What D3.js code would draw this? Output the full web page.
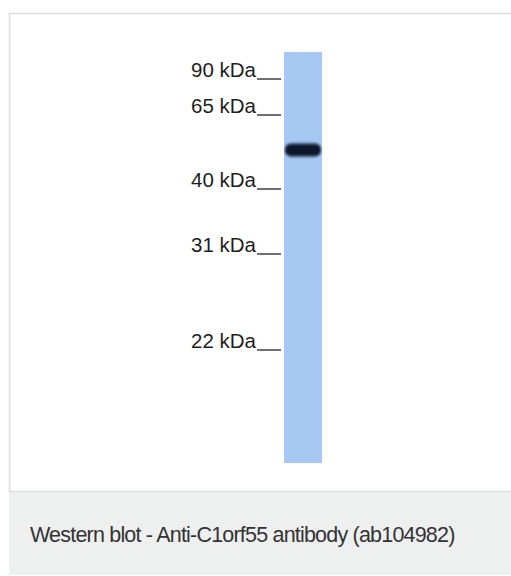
<!DOCTYPE html>
<head>
	<meta charset="utf-8">
	<script type="text/javascript" src="https://cdn.jsdelivr.net/npm/d3@7"></script>
	<style>
		body { margin: 0; background: #fff; }
	</style>
</head>
<body>
	<script type="text/javascript">

	// marker ladder (kDa) and the one band seen in the lane
	var markers = [90, 65, 40, 31, 22];
	var markerLabels = ["90 kDa", "65 kDa", "40 kDa", "31 kDa", "22 kDa"];
	var bands = [51];
	var caption = "Western blot - Anti-C1orf55 antibody (ab104982)";

	var w = 511;
	var h = 576;

	var svg = d3.select("body")
	.append("svg")
	.attr("width", w)
	.attr("height", h);

	// gel runs are not quite log-linear, so calibrate piecewise on the ladder
	var yscale = d3.scaleLog()
	.domain(markers)
	.range([77, 113, 187, 252, 348]);

	var laneX = 284, laneW = 38;

	// frame + caption strip
	svg.append("rect")
	.attr("x", 9.5).attr("y", 13.5)
	.attr("width", w).attr("height", 478)
	.attr("fill", "#fff")
	.attr("stroke", "#dcdcdc")
	.attr("stroke-width", 1.5);

	svg.append("rect")
	.attr("x", 9).attr("y", 492)
	.attr("width", w).attr("height", 83)
	.attr("fill", "#eeefef");

	svg.append("text")
	.text(caption)
	.attr("x", 30)
	.attr("y", 542)
	.attr("font-family", "Liberation Sans, Arial, sans-serif")
	.attr("font-size", "21.5px")
	.attr("letter-spacing", "-0.8px")
	.attr("fill", "#333");

	var defs = svg.append("defs");
	defs.append("filter").attr("id", "blur")
	.attr("x", "-20%").attr("y", "-100%").attr("width", "140%").attr("height", "300%")
	.append("feGaussianBlur").attr("stdDeviation", "1.3 1.8");

	// lane
	svg.append("rect")
	.attr("x", laneX).attr("y", 52)
	.attr("width", laneW).attr("height", 411)
	.attr("fill", "#a8c8f4");

	svg.selectAll("rect.band")
	.data(bands)
	.enter()
	.append("rect")
	.attr("class", "band")
	.attr("x", laneX + 1)
	.attr("y", function(d){ return yscale(d) - 6.5; })
	.attr("width", laneW - 2)
	.attr("height", 13)
	.attr("rx", 6)
	.attr("fill", "#0b1829")
	.attr("filter", "url(#blur)");

	// ladder labels with their underscore ticks
	var g = svg.selectAll("g.marker")
	.data(markers)
	.enter()
	.append("g")
	.attr("class", "marker");

	g.append("text")
	.text(function(d, i){ return markerLabels[i]; })
	.attr("x", 256)
	.attr("y", function(d){ return yscale(d); })
	.attr("text-anchor", "end")
	.attr("font-family", "Liberation Sans, Arial, sans-serif")
	.attr("font-size", "20.5px")
	.attr("fill", "#1e1e1e");

	g.append("line")
	.attr("x1", 257).attr("x2", 281)
	.attr("y1", function(d){ return yscale(d) + 2; })
	.attr("y2", function(d){ return yscale(d) + 2; })
	.attr("stroke", "#222")
	.attr("stroke-width", 1.3);

	</script>
</body>
</html>
